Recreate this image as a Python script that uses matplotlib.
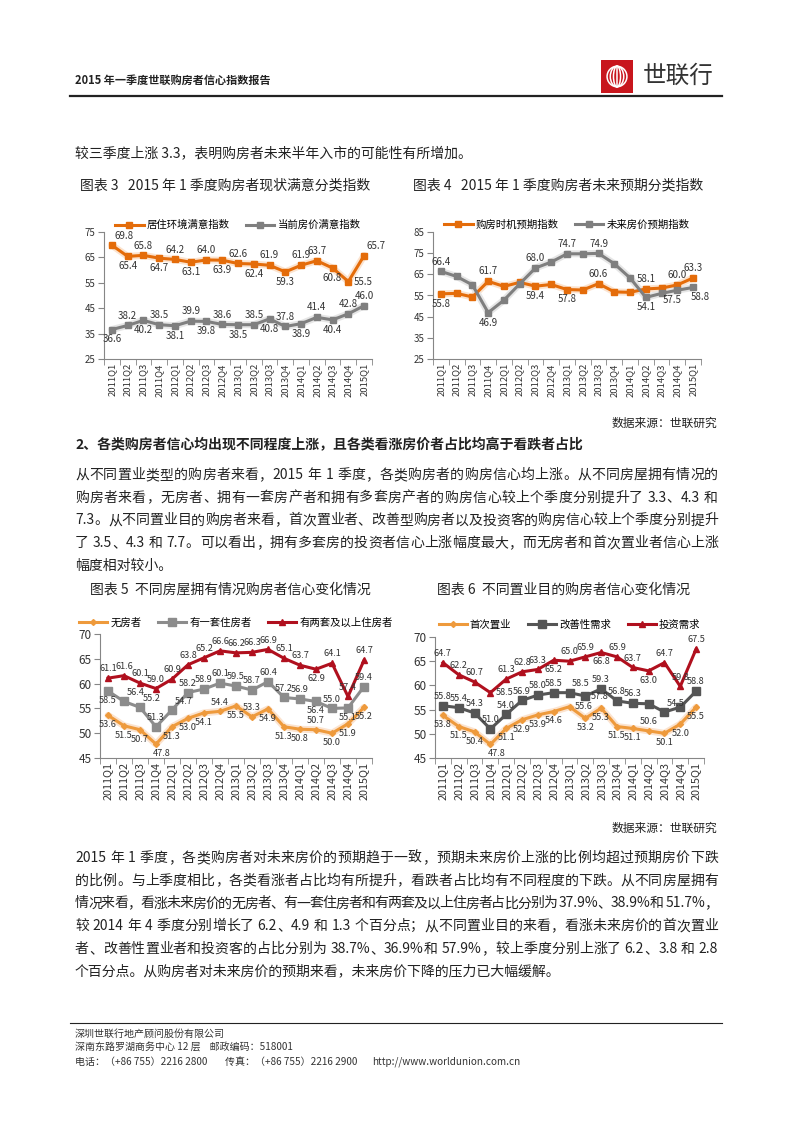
import re
import matplotlib
matplotlib.use('Agg')
import matplotlib.pyplot as plt
from matplotlib.patches import Rectangle, Ellipse
import numpy as np

CJK = ['Noto Sans CJK SC', 'DejaVu Sans']
plt.rcParams['font.family'] = CJK

# ---------------- data ----------------
QUARTERS = ['2011Q1', '2011Q2', '2011Q3', '2011Q4', '2012Q1', '2012Q2', '2012Q3', '2012Q4',
            '2013Q1', '2013Q2', '2013Q3', '2013Q4', '2014Q1', '2014Q2', '2014Q3', '2014Q4', '2015Q1']

# 图表3
LIVING_ENV = [69.8, 65.4, 65.8, 64.7, 64.2, 63.1, 64.0, 63.9, 62.6, 62.4, 61.9, 59.3, 61.9, 63.7, 60.8, 55.5, 65.7]
PRICE_NOW = [36.6, 38.2, 40.2, 38.5, 38.1, 39.9, 39.8, 38.6, 38.5, 38.5, 40.8, 37.8, 38.9, 41.4, 40.4, 42.8, 46.0]
# 图表4
BUY_TIMING = [55.8, 56.0, 54.3, 61.7, 59.3, 61.2, 59.4, 60.2, 57.8, 57.6, 60.6, 56.7, 56.5, 58.1, 58.5, 60.0, 63.3]
PRICE_EXPECT = [66.4, 64.0, 60.0, 46.9, 52.8, 60.5, 68.0, 70.8, 74.7, 74.7, 74.9, 70.0, 63.3, 54.1, 56.0, 57.5, 58.8]
# 图表5
NO_HOUSE = [53.6, 51.5, 50.7, 47.8, 51.3, 53.0, 54.1, 54.4, 55.5, 53.3, 54.9, 51.3, 50.8, 50.7, 50.0, 51.9, 55.2]
ONE_HOUSE = [58.5, 56.4, 55.2, 51.3, 54.7, 58.2, 58.9, 60.1, 59.5, 58.7, 60.4, 57.2, 56.9, 56.4, 55.0, 55.1, 59.4]
TWO_HOUSE = [61.1, 61.6, 60.1, 59.0, 60.9, 63.8, 65.2, 66.6, 66.2, 66.3, 66.9, 65.1, 63.7, 62.9, 64.1, 57.4, 64.7]
# 图表6
FIRST_BUY = [53.8, 51.5, 50.4, 47.8, 51.1, 52.9, 53.9, 54.6, 55.6, 53.2, 55.3, 51.5, 51.1, 50.6, 50.1, 52.0, 55.5]
IMPROVE = [55.8, 55.4, 54.3, 51.0, 54.0, 56.9, 58.0, 58.5, 58.5, 57.8, 59.3, 56.8, 56.3, 56.2, 54.5, 55.5, 58.8]
INVEST = [64.7, 62.2, 60.7, 58.5, 61.3, 62.8, 63.3, 65.2, 65.0, 65.9, 66.8, 65.9, 63.7, 63.0, 64.7, 59.8, 67.5]

# 数据标签位置 (a 上, b 下, ar 右上, br 右下, bl 左下, r 右, '' 无)
POS_LIVING = ['ar', 'b', 'a', 'b', 'a', 'b', 'a', 'b', 'a', 'b', 'a', 'b', 'a', 'a', 'b', 'r', 'ar']
POS_PRICE_NOW = ['b', 'a', 'b', 'a', 'b', 'a', 'b', 'a', 'b', 'a', 'b', 'a', 'b', 'a', 'b', 'a', 'a']
POS_TIMING = ['b', '', '', 'a', '', '', 'b', '', 'b', '', 'a', '', '', 'a', '', 'a', 'a']
POS_EXPECT = ['a', '', '', 'b', '', '', 'a', '', 'a', '', 'a', '', '', 'b', '', 'bl', 'br']
POS_NO = ['b', 'b', 'b', 'br', 'b', 'b', 'b', 'a', 'b', 'a', 'b', 'b', 'b', 'a', 'b', 'b', 'b']
POS_ONE = ['b', 'ar', 'ar', 'a', 'ar', 'a', 'a', 'a', 'a', 'a', 'a', 'a', 'a', 'b', 'a', 'b', 'a']
POS_TWO = ['a'] * 13 + ['b', 'a', 'a', 'a']
POS_FIRST = ['b', 'b', 'b', 'br', 'b', 'b', 'b', 'b', 'r', 'b', 'b', 'b', 'b', 'a', 'b', 'b', 'b']
POS_IMPROVE = ['a'] * 8 + ['ar', 'r', 'a', 'a', 'a', '', 'ar', '', 'a']
POS_INVEST = ['a', 'a', 'a', 'r', 'a', 'a', 'a', 'b', 'a', 'a', 'b', 'a', 'a', 'b', 'a', 'a', 'a']

PARA1 = [
    '从不同置业类型的购房者来看，2015 年 1 季度，各类购房者的购房信心均上涨。从不同房屋拥有情况的',
    '购房者来看，无房者、拥有一套房产者和拥有多套房产者的购房信心较上个季度分别提升了 3.3、4.3 和',
    '7.3。从不同置业目的购房者来看，首次置业者、改善型购房者以及投资客的购房信心较上个季度分别提升',
    '了 3.5、4.3 和 7.7。可以看出，拥有多套房的投资者信心上涨幅度最大，而无房者和首次置业者信心上涨',
    '幅度相对较小。',
]
PARA2 = [
    '2015 年 1 季度，各类购房者对未来房价的预期趋于一致，预期未来房价上涨的比例均超过预期房价下跌',
    '的比例。与上季度相比，各类看涨者占比均有所提升，看跌者占比均有不同程度的下跌。从不同房屋拥有',
    '情况来看，看涨未来房价的无房者、有一套住房者和有两套及以上住房者占比分别为 37.9%、38.9%和 51.7%，',
    '较 2014 年 4 季度分别增长了 6.2、4.9 和 1.3 个百分点；从不同置业目的来看，看涨未来房价的首次置业',
    '者、改善性置业者和投资客的占比分别为 38.7%、36.9%和 57.9%，较上季度分别上涨了 6.2、3.8 和 2.8',
    '个百分点。从购房者对未来房价的预期来看，未来房价下降的压力已大幅缓解。',
]

# ---------------- figure ----------------
W, H = 793, 1122
fig = plt.figure(figsize=(W / 100, H / 100), dpi=100)
renderer = fig.canvas.get_renderer()
TXT = '#222222'


def fy(y):
    return 1 - y / H


def text_px(x, y, s, size, ha='left', weight='normal', color=TXT):
    return fig.text(x / W, fy(y), s, fontsize=size, ha=ha, va='center',
                    weight=weight, color=color, family=CJK)


def justify_line(s, y, x0=75, x1=718, size=10):
    tokens = re.findall(r'[A-Za-z0-9.%+]+|.', s)
    objs, widths = [], []
    for t in tokens:
        if t == ' ':
            objs.append(None)
            widths.append(size * 100 / 72 * 0.25)
        else:
            o = text_px(0, y, t, size)
            objs.append(o)
            widths.append(o.get_window_extent(renderer).width)
    gap = (x1 - x0 - sum(widths)) / (len(tokens) - 1)
    x = x0
    for o, w in zip(objs, widths):
        if o is not None:
            o.set_x(x / W)
        x += w + gap


def paragraph(lines, y0, step=22.7, size=10):
    for i, s in enumerate(lines):
        y = y0 + i * step
        if i < len(lines) - 1:
            justify_line(s, y, size=size)
        else:
            text_px(75, y, s, size)


OFFS = {'a': (0, 3.5, 'center', 'bottom'), 'b': (0, -3.5, 'center', 'top'),
        'ar': (2, 3, 'left', 'bottom'), 'br': (-2, -3.5, 'left', 'top'),
        'bl': (3, -3.5, 'right', 'top'), 'r': (4, 0, 'left', 'center')}


def draw_chart(box, ylim, yticks, series, legend_y, lab_fs, tick_fs, xt_fs):
    l, t, r, b = box
    ax = fig.add_axes([l / W, 1 - b / H, (r - l) / W, (b - t) / H])
    x = np.arange(len(QUARTERS))
    for vals, pos, name, color, marker, ms, glow in series:
        if glow:
            ax.plot(x, vals, color=glow, lw=5, solid_capstyle='round', zorder=1)
        ax.plot(x, vals, color=color, lw=2.2, marker=marker, ms=ms, label=name,
                markeredgecolor=color, zorder=2)
        for i, (v, p) in enumerate(zip(vals, pos)):
            if not p:
                continue
            dx, dy, ha, va = OFFS[p]
            ax.annotate(f'{v:.1f}', (i, v), xytext=(dx, dy), textcoords='offset points',
                        ha=ha, va=va, fontsize=lab_fs, color='#333333', family=CJK, zorder=3)
    ax.set_xlim(-0.5, len(QUARTERS) - 0.5)
    ax.set_ylim(*ylim)
    ax.set_yticks(yticks)
    ax.set_xticks(x)
    ax.set_xticklabels(QUARTERS, rotation=90, fontsize=xt_fs, color='#333333')
    ax.set_xticks(np.arange(-0.5, len(QUARTERS), 1), minor=True)
    ax.tick_params(axis='x', which='major', length=0, pad=3)
    ax.tick_params(axis='x', which='minor', length=4, color='#868686')
    ax.tick_params(axis='y', length=4, color='#868686', labelsize=tick_fs, labelcolor='#333333', pad=2)
    for s in ['top', 'right']:
        ax.spines[s].set_visible(False)
    for s in ['left', 'bottom']:
        ax.spines[s].set_color('#868686')
    ax.patch.set_alpha(0)
    ly = 1 + (t - legend_y) / (b - t)
    ax.legend(loc='center', bbox_to_anchor=(0.5, ly), ncol=len(series), frameon=False,
              handlelength=2.7, handletextpad=0.3, columnspacing=1.6,
              borderaxespad=0, prop={'family': CJK, 'size': 7.5})
    return ax


ORANGE = '#E46C0A'
GRAY = '#7F7F7F'

draw_chart((104, 232, 372, 359), (25, 75), range(25, 76, 10), [
    (LIVING_ENV, POS_LIVING, '居住环境满意指数', ORANGE, 's', 5, '#FBE3CF'),
    (PRICE_NOW, POS_PRICE_NOW, '当前房价满意指数', GRAY, 's', 5, '#E6E6E6'),
], 225, 7, 7, 6.8)

draw_chart((433, 232, 701, 359), (25, 85), range(25, 86, 10), [
    (BUY_TIMING, POS_TIMING, '购房时机预期指数', ORANGE, 's', 5, '#FBE3CF'),
    (PRICE_EXPECT, POS_EXPECT, '未来房价预期指数', GRAY, 's', 5, '#E6E6E6'),
], 225, 7, 7, 6.8)

draw_chart((100, 634, 372, 758), (45, 70), range(45, 71, 5), [
    (NO_HOUSE, POS_NO, '无房者', '#EE9A3C', 'D', 3, '#FBE3CF'),
    (ONE_HOUSE, POS_ONE, '有一套住房者', '#8C8C8C', 's', 5.5, None),
    (TWO_HOUSE, POS_TWO, '有两套及以上住房者', '#B0101E', '^', 5, None),
], 623, 6.6, 8.5, 7.8)

draw_chart((435, 637, 704, 758), (45, 70), range(45, 71, 5), [
    (FIRST_BUY, POS_FIRST, '首次置业', '#EE9A3C', 'D', 3, '#FBE3CF'),
    (IMPROVE, POS_IMPROVE, '改善性需求', '#555555', 's', 5.5, None),
    (INVEST, POS_INVEST, '投资需求', '#B0101E', '^', 5, None),
], 625, 6.6, 8.5, 7.8)

# ---------------- header ----------------
text_px(75, 80, '2015 年一季度世联购房者信心指数报告', 8, weight='bold')
logo = fig.add_axes([601 / W, 1 - 93 / H, 32 / W, 33 / H])
logo.set_xlim(0, 1)
logo.set_ylim(0, 1)
logo.axis('off')
logo.add_patch(Rectangle((0, 0), 1, 1, color='#C8161D'))
for wdt in [0.22, 0.42, 0.62]:
    logo.add_patch(Ellipse((0.5, 0.5), wdt, 0.62, fill=False, ec='white', lw=1.1))
logo.plot([0.5, 0.5], [0.19, 0.81], color='white', lw=1.1)
text_px(643, 76, '世联行', 17, color='#333333')
fig.add_artist(plt.Line2D([70 / W, 722 / W], [fy(96), fy(96)], color='#222222', lw=1.6))

# ---------------- body ----------------
text_px(75, 153, '较三季度上涨 3.3，表明购房者未来半年入市的可能性有所增加。', 10)
text_px(80, 185, '图表 3   2015 年 1 季度购房者现状满意分类指数', 10)
text_px(413, 185, '图表 4   2015 年 1 季度购房者未来预期分类指数', 10)
text_px(717, 423, '数据来源：世联研究', 8.5, ha='right')
text_px(75, 445, '2、各类购房者信心均出现不同程度上涨，且各类看涨房价者占比均高于看跌者占比', 10, weight='bold')
paragraph(PARA1, 475)
text_px(90, 590, '图表 5  不同房屋拥有情况购房者信心变化情况', 10)
text_px(437, 590, '图表 6  不同置业目的购房者信心变化情况', 10)
text_px(717, 828, '数据来源：世联研究', 8.5, ha='right')
paragraph(PARA2, 858)

# ---------------- footer ----------------
fig.add_artist(plt.Line2D([70 / W, 722 / W], [fy(1023), fy(1023)], color='#222222', lw=0.8))
FOOT = '#333333'
text_px(75, 1034, '深圳世联行地产顾问股份有限公司', 7.2, color=FOOT)
text_px(75, 1048, '深南东路罗湖商务中心 12 层    邮政编码：518001', 7.2, color=FOOT)
text_px(75, 1062, '电话：（+86 755）2216 2800', 7.2, color=FOOT)
text_px(225, 1062, '传真：（+86 755）2216 2900', 7.2, color=FOOT)
text_px(372, 1062, 'http://www.worldunion.com.cn', 7.2, color=FOOT)

fig.savefig('out.png', dpi=100, facecolor='white')
